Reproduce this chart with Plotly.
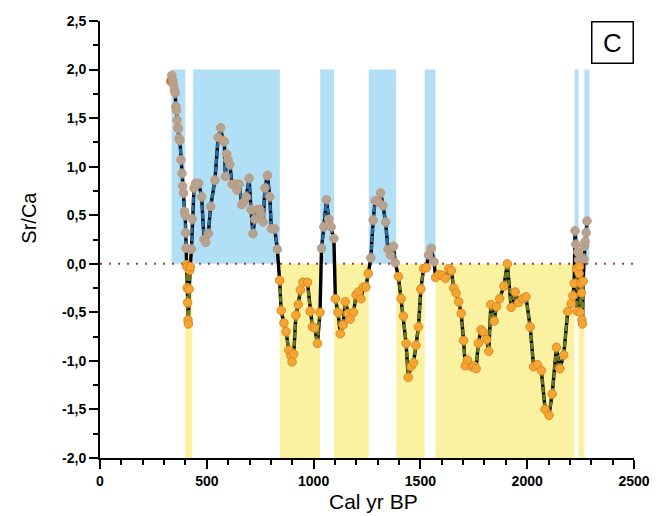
import plotly.graph_objects as go

# ---- data ----
age = [330, 336, 341, 345, 348, 352, 355, 358, 361, 364, 367, 370, 374, 379, 384, 387, 391,
       396, 399, 401, 403, 405, 407, 408, 410, 412, 414, 417, 420, 423, 428, 432, 440, 448,
       462, 476, 487, 495, 507, 518, 538, 553, 565, 575, 582, 587, 593, 599, 608, 618, 630,
       641, 652, 664, 675, 685, 698, 707, 716, 725, 737, 748, 753, 764, 772, 784, 795, 802,
       818, 830, 841, 848, 861, 871, 884, 894, 899, 907, 917, 928, 938, 950, 971, 984, 994,
       1005, 1018, 1030, 1037, 1048, 1060, 1071, 1082, 1095, 1102, 1114, 1125, 1138, 1148,
       1161, 1171, 1187, 1199, 1210, 1222, 1233, 1245, 1256, 1268, 1279, 1288, 1302, 1314,
       1325, 1337, 1348, 1360, 1374, 1382, 1397, 1410, 1420, 1433, 1443, 1456, 1468, 1479,
       1491, 1502, 1515, 1528, 1538, 1551, 1564, 1571, 1587, 1602, 1617, 1633, 1645, 1656,
       1667, 1679, 1691, 1702, 1710, 1720, 1741, 1750, 1761, 1771, 1784, 1794, 1810, 1820,
       1830, 1845, 1856, 1871, 1891, 1907, 1925, 1944, 1960, 1979, 1994, 2014, 2030, 2048,
       2066, 2084, 2102, 2117, 2137, 2153, 2171, 2190, 2206, 2214, 2220, 2224, 2228, 2231,
       2234, 2237, 2240, 2243, 2245, 2248, 2251, 2254, 2256, 2259, 2262, 2265, 2268, 2271,
       2276, 2280]
srca = [1.88, 1.94, 1.89, 1.84, 1.79, 1.76, 1.62, 1.58, 1.48, 1.40, 1.39, 1.29, 1.27, 1.07,
        0.93, 0.80, 0.73, 0.54, 0.50, 0.32, 0.16, -0.01, -0.03, -0.25, -0.40, -0.58, -0.62,
        -0.26, -0.07, -0.03, 0.15, 0.46, 0.78, 0.83, 0.83, 0.69, 0.25, 0.22, 0.31, 0.59, 0.86,
        1.30, 1.40, 1.27, 1.26, 0.90, 1.13, 1.07, 1.02, 0.82, 0.82, 0.76, 0.82, 0.61, 0.64,
        0.69, 0.88, 0.56, 0.31, 0.46, 0.56, 0.56, 0.51, 0.43, 0.78, 0.91, 0.69, 0.36, 0.36,
        0.15, -0.17, -0.48, -0.61, -0.70, -0.89, -0.95, -1.01, -0.93, -0.53, -0.42, -0.27,
        -0.19, -0.19, -0.49, -0.65, -0.66, -0.82, -0.50, 0.16, 0.38, 0.66, 0.46, 0.38, 0.26,
        -0.36, -0.50, -0.72, -0.63, -0.39, -0.51, -0.57, -0.50, -0.32, -0.29, -0.36, -0.24,
        -0.24, -0.10, 0.06, 0.45, 0.65, 0.64, 0.73, 0.60, 0.43, 0.15, 0.09, 0.18, 0.01, -0.13,
        -0.36, -0.54, -0.82, -1.17, -1.06, -1.02, -0.84, -0.65, -0.26, -0.05, -0.04, 0.09,
        0.16, 0.02, -0.14, -0.11, -0.12, -0.15, -0.05, -0.07, -0.25, -0.30, -0.39, -0.51,
        -0.79, -1.05, -0.99, -1.06, -1.05, -1.08, -0.82, -0.68, -0.70, -0.78, -0.90, -0.42,
        -0.59, -0.44, -0.36, -0.23, 0.00, -0.45, -0.29, -0.40, -0.36, -0.34, -0.65, -1.06,
        -1.04, -1.10, -1.50, -1.56, -1.34, -0.86, -1.08, -0.94, -0.49, -0.41, -0.33, -0.20,
        0.34, 0.20, -0.05, -0.49, 0.12, 0.04, -0.10, -0.03, -0.50, -0.20, -0.30, -0.58, -0.62,
        -0.18, 0.05, 0.18, 0.23, 0.32, 0.44]

blue_start = [335, 436, 1031, 1258, 1520, 2222, 2268]
blue_end = [399, 842, 1096, 1387, 1571, 2240, 2291]
yellow_start = [399, 842, 1096, 1387, 1571, 2240]
yellow_end = [432, 1031, 1258, 1520, 2222, 2268]

y_ticks = [2.5, 2.0, 1.5, 1.0, 0.5, 0.0, -0.5, -1.0, -1.5, -2.0]
y_ticktext = ["2,5", "2,0", "1,5", "1,0", "0,5", "0,0", "-0,5", "-1,0", "-1,5", "-2,0"]
x_ticks = [0, 500, 1000, 1500, 2000, 2500]

BLUE_BG = "rgb(176,223,246)"
YEL_BG = "rgb(250,242,160)"
LINE_POS = "rgb(44,110,165)"
LINE_NEG = "rgb(108,122,34)"
MK_POS = "rgb(176,164,150)"
MK_NEG = "rgb(245,166,48)"

fig = go.Figure()

shapes = []
for a, b in zip(blue_start, blue_end):
    shapes.append(dict(type="rect", xref="x", yref="y", x0=a, x1=b, y0=0, y1=2.0,
                       fillcolor=BLUE_BG, line=dict(width=0), layer="below"))
for a, b in zip(yellow_start, yellow_end):
    shapes.append(dict(type="rect", xref="x", yref="y", x0=a, x1=b, y0=-2.0, y1=0,
                       fillcolor=YEL_BG, line=dict(width=0), layer="below"))
shapes.append(dict(type="line", xref="x", yref="y", x0=0, x1=2500, y0=0, y1=0,
                   line=dict(color="rgb(170,60,50)", width=2, dash="2px,7px"), layer="below"))

# base black line
fig.add_trace(go.Scatter(x=age, y=srca, mode="lines",
                         line=dict(color="black", width=3.4), hoverinfo="skip", showlegend=False))

# coloured overlay segments by sign
px_, py_, nx_, ny_ = [], [], [], []
for i in range(len(age) - 1):
    a0, a1, v0, v1 = age[i], age[i + 1], srca[i], srca[i + 1]
    if v0 > 0 and v1 > 0:
        px_ += [a0, a1, None]; py_ += [v0, v1, None]
    elif v0 <= 0 and v1 <= 0:
        nx_ += [a0, a1, None]; ny_ += [v0, v1, None]
fig.add_trace(go.Scatter(x=px_, y=py_, mode="lines", connectgaps=False,
                         line=dict(color=LINE_POS, width=2.8, dash="6px,2px"),
                         hoverinfo="skip", showlegend=False))
fig.add_trace(go.Scatter(x=nx_, y=ny_, mode="lines", connectgaps=False,
                         line=dict(color=LINE_NEG, width=2.8, dash="6px,2px"),
                         hoverinfo="skip", showlegend=False))

mcol = [MK_POS if v > 0.005 else MK_NEG for v in srca]
mcol[0] = "rgb(230,110,50)"
medge = ["rgb(205,150,110)" if v > 0.005 else "rgb(225,135,40)" for v in srca]
fig.add_trace(go.Scatter(x=age, y=srca, mode="markers",
                         marker=dict(size=8.5, color=mcol, line=dict(color=medge, width=1)),
                         showlegend=False))

fig.update_layout(
    width=662, height=516,
    margin=dict(l=100, r=20, t=21, b=58),
    plot_bgcolor="white", paper_bgcolor="white",
    font=dict(family="Liberation Sans, Arial, sans-serif", color="black"),
    shapes=shapes,
    xaxis=dict(range=[0, 2500], tickvals=x_ticks, showgrid=False, zeroline=False,
               showline=True, linecolor="black", linewidth=2,
               ticks="outside", ticklen=9, tickwidth=2, tickcolor="black",
               tickfont=dict(size=14, family="Liberation Sans, Arial", weight="bold"),
               minor=dict(ticks="outside", ticklen=5, tickwidth=1.5, dtick=100,
                          tick0=0, tickcolor="black", showgrid=False)),
    yaxis=dict(range=[-2.0, 2.5], tickvals=y_ticks, ticktext=y_ticktext, showgrid=False,
               zeroline=False, showline=True, linecolor="black", linewidth=2,
               ticks="outside", ticklen=9, tickwidth=2, tickcolor="black",
               tickfont=dict(size=14, family="Liberation Sans, Arial", weight="bold"),
               minor=dict(ticks="outside", ticklen=5, tickwidth=1.5, dtick=0.25,
                          tick0=0, tickcolor="black", showgrid=False)),
    annotations=[
        dict(text="C", xref="paper", yref="paper", x=1, y=1.0, xanchor="right", yanchor="top",
             showarrow=False, font=dict(size=26, color="black"),
             bordercolor="black", borderwidth=1.5, borderpad=0, width=40, height=40,
             bgcolor="white"),
        dict(text="Sr/Ca", xref="paper", yref="paper", x=-0.133, y=0.55, textangle=-90,
             showarrow=False, font=dict(size=20), xanchor="center", yanchor="middle"),
        dict(text="Cal yr BP", xref="paper", yref="paper", x=0.513, y=-0.10,
             showarrow=False, font=dict(size=21), xanchor="center", yanchor="middle"),
    ],
)

fig.write_html("out.html")
